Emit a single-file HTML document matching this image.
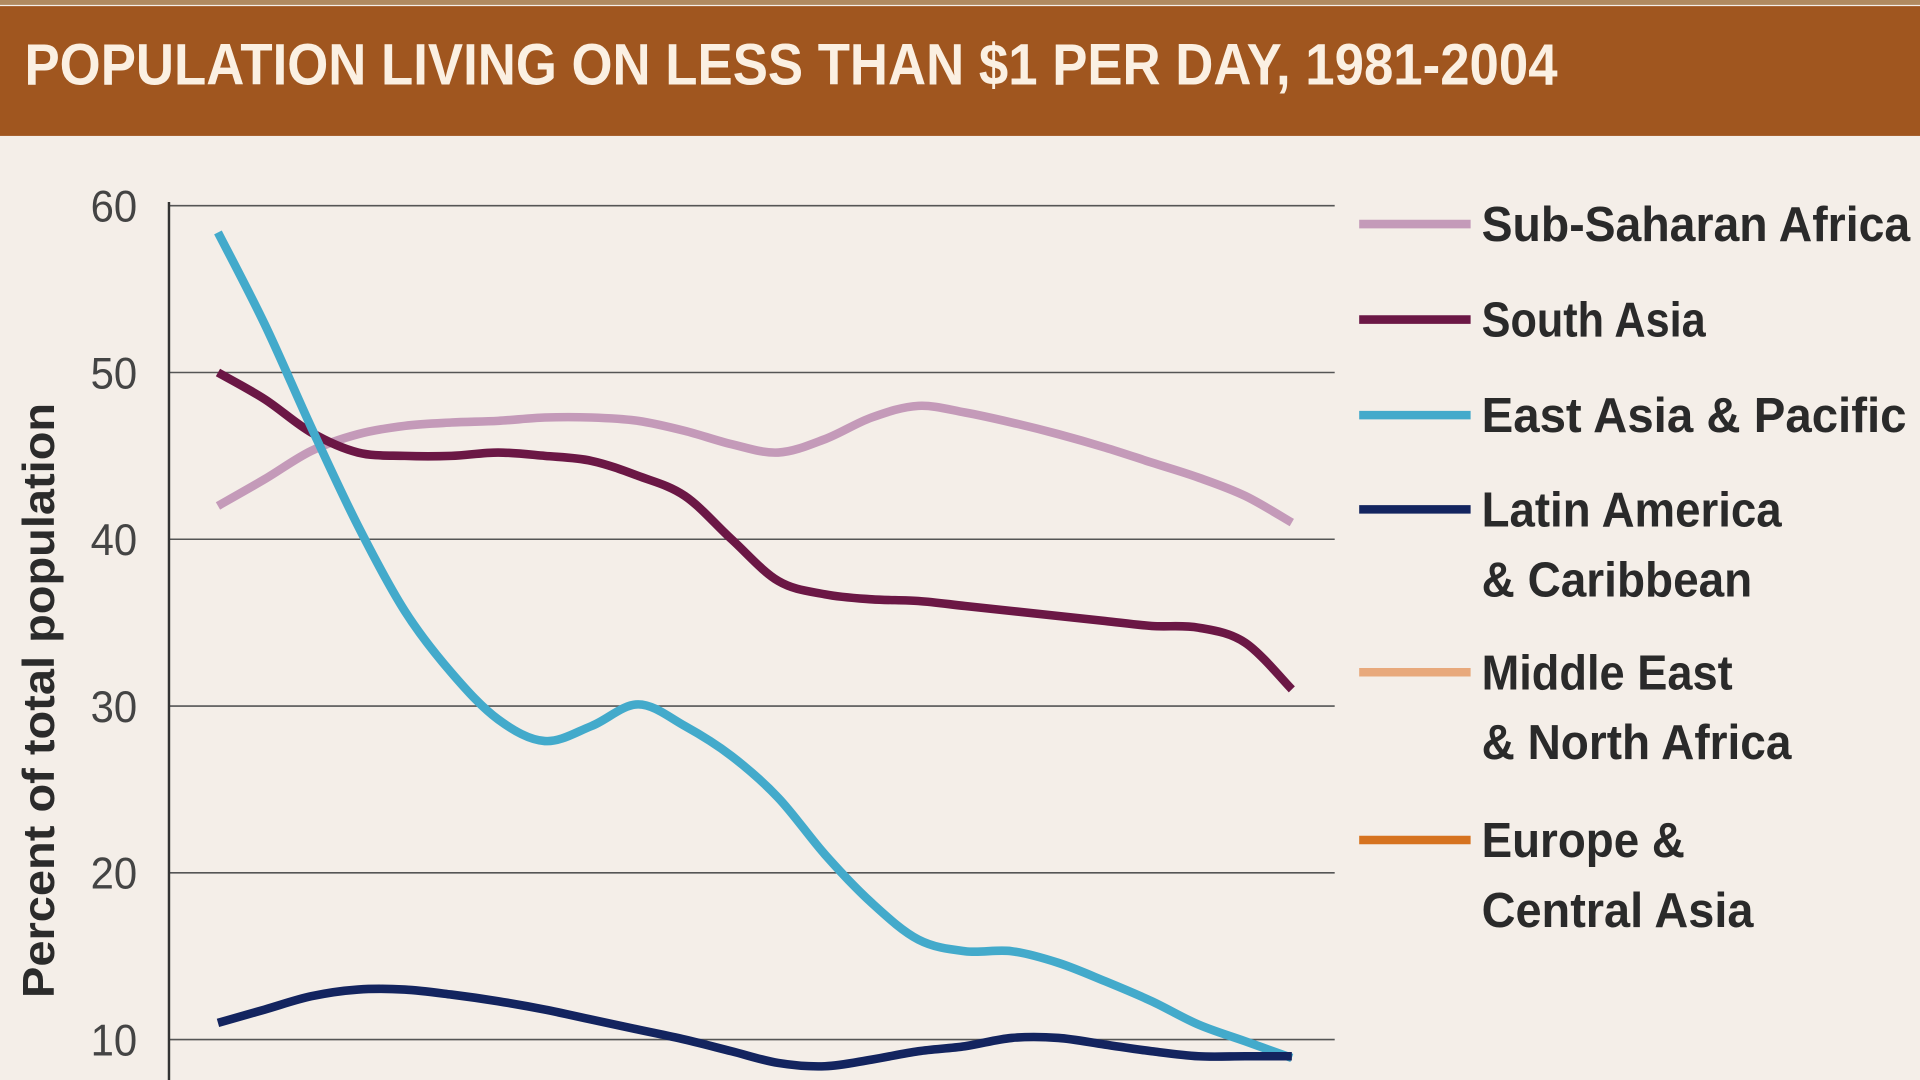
<!DOCTYPE html>
<html><head><meta charset="utf-8"><style>
html,body{margin:0;padding:0;background:#f4eee8;width:1920px;height:1080px;overflow:hidden}
svg{display:block}
text{font-family:"Liberation Sans Narrow","Liberation Sans",sans-serif;font-weight:bold}
text.thin{font-weight:normal}
</style></head><body>
<svg width="1920" height="1080" viewBox="0 0 1568 882" preserveAspectRatio="none">
<rect x="0" y="0" width="1568" height="882" fill="#f4eee8"/>
<rect x="0" y="0" width="1568" height="4" fill="#b08a60"/>
<rect x="0" y="5" width="1568" height="106" fill="#a0561f"/>
<text x="20" y="69" font-size="48" fill="#fbf0e2" textLength="1252" lengthAdjust="spacingAndGlyphs">POPULATION LIVING ON LESS THAN $1 PER DAY, 1981-2004</text>
<g id="grid"></g>
<text transform="translate(44,572) rotate(-90)" text-anchor="middle" font-size="36" fill="#2b2b2b" textLength="486" lengthAdjust="spacingAndGlyphs">Percent of total population</text>
<g id="series"></g>
<g id="legend"></g>
</svg>
<script>
const years=[1981,1982,1983,1984,1985,1986,1987,1988,1989,1990,1991,1992,1993,1994,1995,1996,1997,1998,1999,2000,2001,2002,2003,2004];
const ssa=[42,43.6,45.3,46.3,46.8,47,47.1,47.3,47.3,47.1,46.5,45.7,45.2,46,47.3,48,47.6,47,46.3,45.5,44.6,43.7,42.6,41];
const southAsia=[50,48.4,46.4,45.2,45,45,45.2,45,44.7,43.8,42.6,40,37.5,36.7,36.4,36.3,36,35.7,35.4,35.1,34.8,34.7,33.8,31];
const eastAsia=[58.4,52.9,46.7,40.8,35.7,32,29.2,27.9,28.8,30.1,28.8,27,24.5,21.1,18.2,16,15.3,15.3,14.6,13.5,12.3,10.9,9.9,8.9];
const latin=[11,11.8,12.6,13,13,12.7,12.3,11.8,11.2,10.6,10,9.3,8.6,8.4,8.8,9.3,9.6,10.1,10.1,9.7,9.3,9,9,9];
const yTicks=[10,20,30,40,50,60];
const legendLabels=[["Sub-Saharan Africa"],["South Asia"],["East Asia & Pacific"],["Latin America","& Caribbean"],["Middle East","& North Africa"],["Europe &","Central Asia"]];
const legendWidths=[[350],[183],[347],[245,221],[205,253],[166,222]];
const colors=["#c49ab9","#6b1745","#43aacb","#13245f","#e8a97c","#d6731f"];
const NS="http://www.w3.org/2000/svg";
const x=yr=>178+(yr-1981)*(1055-178)/23;
const y=v=>168+(60-v)*(849-168)/50;
function mk(tag,attrs,parent){const e=document.createElementNS(NS,tag);for(const k in attrs)e.setAttribute(k,attrs[k]);parent.appendChild(e);return e;}
const grid=document.getElementById('grid');
yTicks.forEach(t=>{
  const l=mk('line',{x1:138,x2:1090,y1:y(t),y2:y(t),stroke:'#555',"stroke-width":1.3},grid);
  
  
  const tx=mk('text',{x:112,y:y(t)+13,"text-anchor":"end","font-size":36,fill:"#444",class:"thin",textLength:38,lengthAdjust:"spacingAndGlyphs"},grid);
  tx.textContent=t;
  
  
});
const ax=mk('line',{x1:138,x2:138,y1:165,y2:882,stroke:'#333',"stroke-width":2},grid);


function path(vals){
  const p=vals.map((v,i)=>[x(years[i]),y(v)]);
  let d=`M${p[0][0]},${p[0][1]}`;
  for(let i=0;i<p.length-1;i++){
    const p0=p[Math.max(i-1,0)],p1=p[i],p2=p[i+1],p3=p[Math.min(i+2,p.length-1)];
    const c1=[p1[0]+(p2[0]-p0[0])/6,p1[1]+(p2[1]-p0[1])/6],c2=[p2[0]-(p3[0]-p1[0])/6,p2[1]-(p3[1]-p1[1])/6];
    d+=`C${c1[0]},${c1[1]} ${c2[0]},${c2[1]} ${p2[0]},${p2[1]}`;
  }
  return d;
}
const sg=document.getElementById('series');
const seriesList=[[ssa,0,'line-sub-saharan-africa'],[southAsia,1,'line-south-asia'],[eastAsia,2,'line-east-asia-pacific'],[latin,3,'line-latin-america']];
seriesList.forEach(([vals,c,name])=>{
  const e=mk('path',{d:path(vals),fill:'none',stroke:colors[c],"stroke-width":7,"stroke-linejoin":"round"},sg);
  
  
});
const lg=document.getElementById('legend');
const ly=[183,261,339,416,549,686];
legendLabels.forEach((lines,i)=>{
  const l=mk('line',{x1:1110,x2:1201,y1:ly[i],y2:ly[i],stroke:colors[i],"stroke-width":7},lg);
  
  
  lines.forEach((s,j)=>{
    const t=mk('text',{x:1210,y:ly[i]+14+j*57,"font-size":40,fill:"#2a2a2a",textLength:legendWidths[i][j],lengthAdjust:"spacingAndGlyphs"},lg);
    t.textContent=s;
    
    
  });
});
</script>
</body></html>
